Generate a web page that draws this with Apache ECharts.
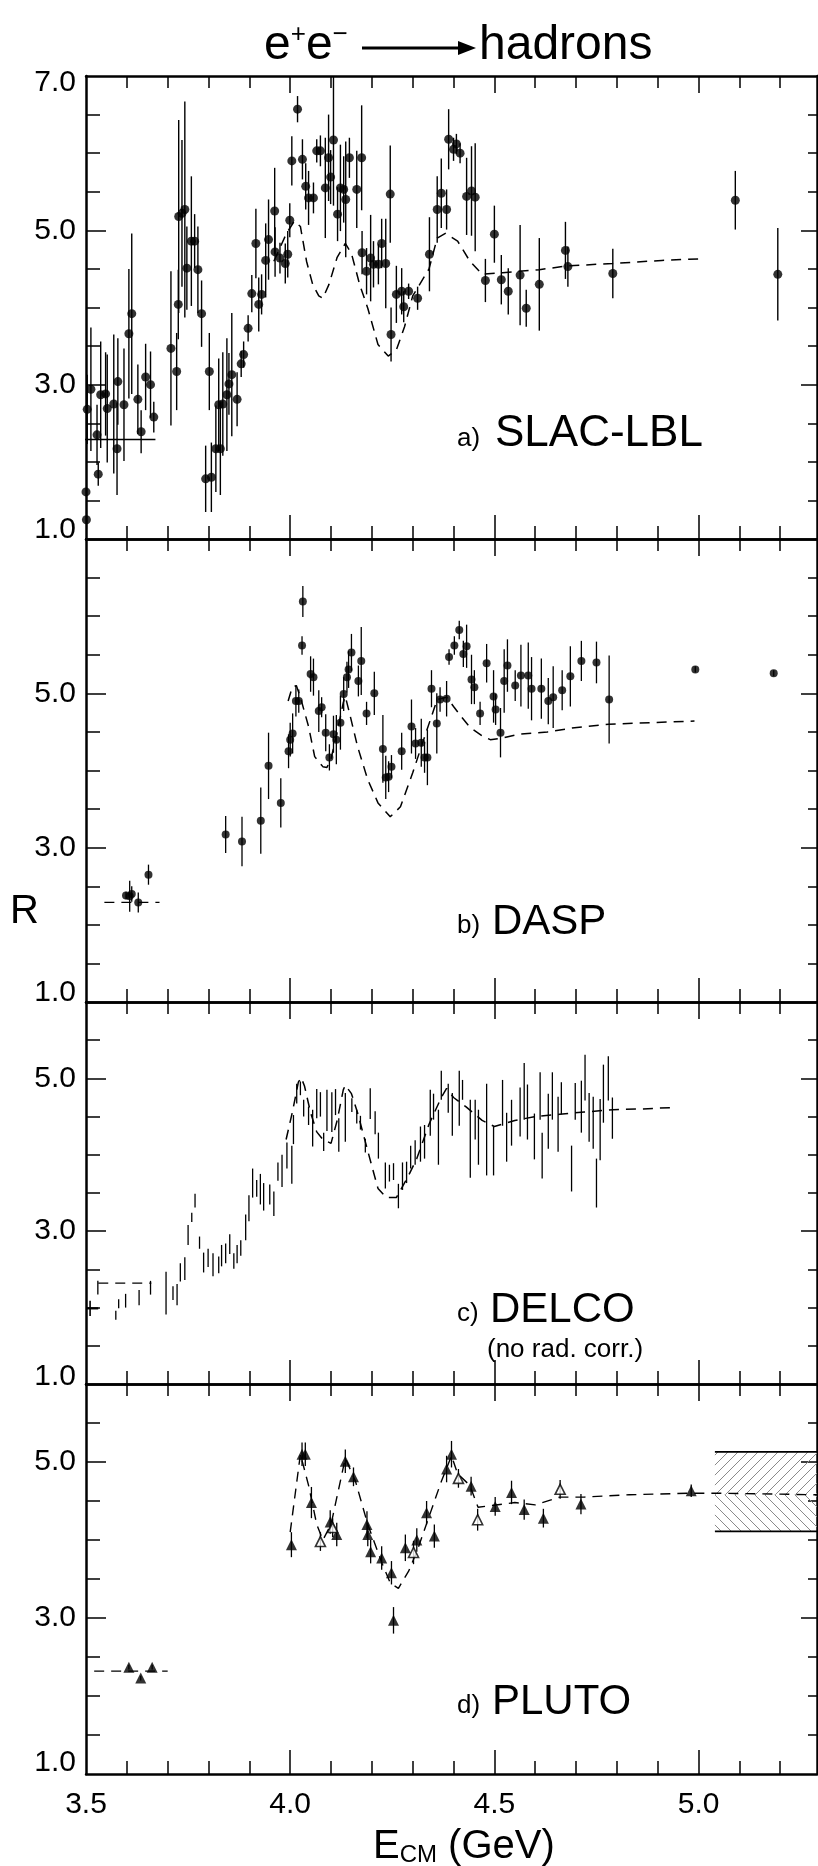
<!DOCTYPE html>
<html><head><meta charset="utf-8">
<script src="https://cdn.jsdelivr.net/npm/echarts@6/dist/echarts.min.js"></script>
<style>html,body{margin:0;padding:0;background:#fff}#c{width:818px;height:1866px}</style>
</head><body><div id="c"></div>
<script>
// ---------------- data ----------------
// a) SLAC-LBL
const slacE = [3.500,3.501,3.503,3.512,3.527,3.530,3.536,3.548,3.552,3.568,3.576,3.578,3.593,3.605,3.612,3.627,3.635,3.646,3.658,3.666,
  3.708,3.722,3.726,3.727,3.735,3.742,3.747,3.758,3.766,3.774,3.783,3.793,3.802,3.807,3.818,3.825,3.829,3.835,3.845,3.850,
  3.857,3.870,3.880,3.886,3.897,3.906,3.916,3.923,3.930,3.940,3.947,3.962,3.963,3.975,3.988,3.994,3.999,4.004,4.018,4.030,
  4.038,4.045,4.057,4.065,4.074,4.086,4.094,4.099,4.106,4.116,4.123,4.131,4.136,4.145,4.163,4.175,4.176,4.187,4.197,4.204,
  4.216,4.224,4.234,4.245,4.247,4.260,4.273,4.278,4.290,4.312,4.341,4.360,4.370,4.383,4.388,4.400,4.407,4.416,4.432,4.444,
  4.453,4.478,4.500,4.517,4.534,4.563,4.578,4.610,4.674,4.680,4.790,5.090,5.194];
const slacR = [1.61,1.25,2.68,2.94,2.35,1.84,2.87,2.88,2.69,2.75,2.17,3.04,2.74,3.66,3.92,2.81,2.39,3.10,3.00,2.58,
  3.47,3.17,4.04,5.18,5.22,5.27,4.51,4.86,4.86,4.49,3.92,1.78,3.17,1.80,2.17,2.74,2.17,2.75,2.87,3.01,
  3.13,2.81,3.27,3.39,3.73,4.18,4.83,4.04,4.17,4.61,4.88,5.25,4.72,4.64,4.57,4.69,5.13,5.90,6.57,5.92,
  5.57,5.42,5.42,6.03,6.03,5.55,5.94,5.69,6.17,5.21,5.55,5.53,5.40,5.94,5.53,5.94,4.71,4.47,4.64,4.56,
  4.56,4.83,4.57,5.47,3.65,4.17,4.21,4.01,4.21,4.12,4.69,5.27,5.48,5.27,6.18,6.05,6.12,6.00,5.44,5.51,
  5.43,4.35,4.95,4.36,4.21,4.42,3.99,4.30,4.74,4.53,4.44,5.39,4.43];
const slacErr = [0.15,0.12,0.45,0.80,0.39,0.15,0.69,0.54,0.70,0.90,0.60,0.56,0.73,0.84,1.04,0.45,0.28,0.43,0.43,0.20,
  1.00,0.50,0.45,1.25,0.95,1.40,0.54,0.84,0.35,0.56,0.43,0.43,0.50,0.45,0.56,0.60,0.60,0.67,0.73,0.40,
  0.80,0.35,0.17,0.17,0.17,0.24,0.45,0.35,0.26,0.48,0.52,0.56,0.32,0.20,0.26,0.30,0.22,0.32,0.17,0.26,
  0.30,0.35,0.20,0.15,0.20,0.65,0.56,0.35,0.85,0.35,0.56,0.43,0.75,0.26,0.50,0.68,0.28,0.30,0.56,0.30,
  0.26,0.32,0.58,0.63,0.35,0.37,0.30,0.20,0.10,0.15,0.48,0.43,0.45,0.26,0.39,0.15,0.13,0.13,0.50,0.58,
  0.70,0.28,0.37,0.32,0.30,0.65,0.24,0.60,0.37,0.26,0.32,0.38,0.60];
const slacCurveE = [3.96,3.99,4.01,4.025,4.04,4.055,4.07,4.08,4.095,4.115,4.135,4.15,4.17,4.19,4.215,4.24,4.26,4.28,4.30,4.34,4.36,4.38,4.41,4.44,4.47,4.52,4.56,4.61,4.68,4.79,4.91,5.0];
const slacCurveR = [4.60,4.95,5.12,5.05,4.60,4.30,4.15,4.12,4.30,4.65,4.83,4.70,4.30,3.99,3.52,3.37,3.45,3.75,4.15,4.50,4.90,4.96,4.86,4.60,4.43,4.45,4.47,4.49,4.54,4.57,4.61,4.63];
const slacLowE = [3.495,3.67];
const slacLowR = [2.29,2.29];

// b) DASP
const daspE = [3.598,3.607,3.612,3.628,3.653,3.842,3.882,3.928,3.947,3.977,3.996,4.000,4.006,4.014,4.021,4.029,4.031,4.050,4.057,4.070,
  4.077,4.087,4.096,4.106,4.113,4.123,4.131,4.139,4.143,4.150,4.167,4.174,4.187,4.206,4.227,4.234,4.241,4.248,4.273,4.297,
  4.307,4.321,4.329,4.336,4.346,4.359,4.367,4.383,4.389,4.402,4.414,4.424,4.432,4.444,4.451,4.465,4.481,4.498,4.503,4.515,
  4.524,4.532,4.551,4.565,4.583,4.591,4.615,4.632,4.644,4.666,4.686,4.713,4.750,4.781,4.992,5.184];
const daspR = [2.38,2.37,2.40,2.29,2.65,3.17,3.08,3.35,4.06,3.58,4.25,4.40,4.48,4.90,4.90,5.62,6.19,5.25,5.21,4.77,
  4.82,4.49,4.17,4.47,4.40,4.62,4.99,5.21,5.31,5.53,5.16,5.42,4.74,5.00,4.28,3.91,3.92,4.05,4.25,4.57,
  4.35,4.36,4.17,4.17,5.06,4.61,4.92,4.93,5.47,5.62,5.82,5.51,5.61,5.18,5.08,4.74,5.39,4.96,4.79,4.49,
  5.16,5.36,5.10,5.23,5.23,5.06,5.06,4.90,4.95,5.04,5.22,5.42,5.40,4.92,5.31,5.26];
const daspErr = [0.05,0.20,0.10,0.13,0.13,0.24,0.32,0.43,0.43,0.32,0.22,0.22,0.26,0.20,0.15,0.12,0.20,0.23,0.24,0.27,
  0.13,0.24,0.17,0.24,0.32,0.35,0.22,0.20,0.24,0.24,0.20,0.44,0.15,0.28,0.44,0.28,0.20,0.15,0.24,0.35,
  0.20,0.31,0.20,0.36,0.24,0.39,0.16,0.23,0.10,0.12,0.12,0.17,0.28,0.32,0.22,0.15,0.25,0.34,0.20,0.32,
  0.41,0.34,0.20,0.40,0.43,0.41,0.39,0.30,0.40,0.26,0.39,0.26,0.27,0.57,0.04,0.04];
const daspCurveE = [3.995,4.005,4.015,4.025,4.045,4.06,4.08,4.09,4.10,4.115,4.13,4.135,4.145,4.165,4.19,4.215,4.245,4.27,4.30,4.33,4.36,4.383,4.40,4.42,4.44,4.47,4.49,4.52,4.56,4.63,4.69,4.78,4.88,4.99];
const daspCurveR = [4.90,5.08,5.10,4.95,4.57,4.18,4.05,4.04,4.15,4.50,4.88,4.96,4.75,4.31,3.88,3.58,3.40,3.53,3.97,4.45,4.92,4.95,4.83,4.69,4.56,4.45,4.40,4.42,4.47,4.50,4.55,4.60,4.62,4.64];
const daspLowE = [3.545,3.68];
const daspLowR = [2.29,2.29];

// c) DELCO (no rad. corr.)
const delcoE = [3.529,3.573,3.580,3.597,3.630,3.658,3.696,3.713,3.723,3.731,3.742,3.750,3.759,3.767,3.778,3.788,3.799,3.811,3.825,3.832,
  3.842,3.852,3.862,3.870,3.879,3.891,3.899,3.908,3.918,3.927,3.935,3.950,3.960,3.970,3.980,3.992,4.004,4.008,4.016,4.025,
  4.033,4.045,4.055,4.065,4.074,4.082,4.090,4.102,4.111,4.119,4.135,4.151,4.163,4.172,4.184,4.196,4.208,4.216,4.233,4.243,
  4.253,4.265,4.275,4.285,4.295,4.306,4.319,4.329,4.343,4.351,4.363,4.370,4.387,4.397,4.414,4.422,4.441,4.453,4.461,4.481,
  4.498,4.520,4.530,4.542,4.563,4.573,4.581,4.598,4.612,4.617,4.632,4.642,4.656,4.664,4.689,4.698,4.713,4.722,4.732,4.742,
  4.750,4.759,4.767,4.779,4.789];
const delcoR = [2.26,1.90,2.05,2.09,2.13,2.26,2.19,2.19,2.17,2.46,2.51,2.95,3.18,3.40,2.85,2.59,2.65,2.56,2.56,2.68,
  2.71,2.83,2.61,2.70,2.78,3.05,3.30,3.63,3.56,3.55,3.45,3.48,3.36,3.78,3.79,3.99,3.87,4.33,4.80,4.87,
  4.61,4.51,4.35,4.67,4.66,4.17,4.58,4.56,4.69,4.26,4.49,4.65,4.50,4.42,4.12,4.67,4.42,4.12,3.73,3.76,
  3.78,3.46,3.72,3.77,3.97,4.03,4.14,4.17,4.55,4.63,4.23,4.91,4.74,4.53,4.74,4.85,4.21,4.46,4.23,4.33,
  4.05,4.68,4.23,4.42,4.56,4.83,4.56,4.24,4.77,3.99,4.44,4.77,4.40,4.74,3.82,4.70,4.63,5.01,4.49,4.42,
  3.63,4.33,4.80,5.00,4.48];
const delcoErr = [0.09,0.06,0.06,0.09,0.10,0.09,0.28,0.09,0.14,0.12,0.15,0.13,0.06,0.09,0.08,0.13,0.12,0.15,0.11,0.14,
  0.13,0.13,0.10,0.12,0.10,0.17,0.17,0.19,0.11,0.20,0.18,0.13,0.16,0.12,0.21,0.17,0.25,0.19,0.13,0.09,
  0.11,0.12,0.24,0.19,0.16,0.12,0.27,0.26,0.17,0.22,0.32,0.09,0.09,0.09,0.09,0.20,0.15,0.17,0.17,0.11,
  0.11,0.16,0.18,0.14,0.15,0.16,0.23,0.22,0.30,0.17,0.36,0.19,0.19,0.28,0.36,0.13,0.51,0.26,0.36,0.60,
  0.32,0.30,0.32,0.30,0.32,0.37,0.36,0.30,0.31,0.30,0.36,0.31,0.36,0.21,0.30,0.24,0.34,0.30,0.32,0.34,
  0.32,0.40,0.38,0.29,0.27];
const delcoFirstE = [3.51];
const delcoFirstR = [1.99];
const delcoFirstErrR = [0.10];
const delcoFirstErrE = [0.02];
const delcoCurveE = [3.99,4.005,4.02,4.027,4.035,4.05,4.065,4.08,4.10,4.115,4.13,4.135,4.15,4.165,4.18,4.20,4.215,4.235,4.26,4.29,4.31,4.34,4.37,4.383,4.40,4.43,4.47,4.50,4.55,4.60,4.66,4.72,4.79,4.86,4.94];
const delcoCurveR = [4.20,4.55,4.95,5.01,4.90,4.55,4.30,4.20,4.15,4.45,4.85,4.91,4.80,4.55,4.25,3.85,3.56,3.44,3.44,3.73,3.95,4.40,4.75,4.87,4.75,4.63,4.45,4.37,4.45,4.50,4.53,4.56,4.59,4.60,4.62];
const delcoLowE = [3.53,3.66];
const delcoLowR = [2.32,2.32];

// d) PLUTO
const plutoE = [3.605,3.634,3.662,4.003,4.029,4.037,4.052,4.098,4.114,4.135,4.155,4.188,4.190,4.197,4.224,4.248,4.253,4.282,4.310,4.334,
  4.353,4.383,4.395,4.443,4.502,4.542,4.573,4.620,4.712,4.982];
const plutoR = [2.37,2.23,2.37,3.94,5.10,5.10,4.48,4.23,4.07,5.01,4.81,4.20,4.07,3.85,3.77,3.58,2.97,3.90,4.00,4.35,
  4.05,4.91,5.10,4.69,4.43,4.61,4.39,4.28,4.46,4.63];
const plutoErr = [0.03,0.03,0.03,0.16,0.15,0.15,0.20,0.15,0.15,0.15,0.12,0.17,0.15,0.15,0.15,0.15,0.17,0.17,0.15,0.15,
  0.15,0.17,0.17,0.12,0.12,0.15,0.13,0.12,0.13,0.08];
const plutoOpenE = [4.074,4.104,4.302,4.412,4.459,4.661];
const plutoOpenR = [3.98,4.16,3.84,4.79,4.26,4.65];
const plutoOpenErr = [0.12,0.12,0.15,0.12,0.14,0.12];
const plutoCurveE = [4.00,4.025,4.045,4.065,4.08,4.10,4.135,4.16,4.19,4.225,4.245,4.265,4.29,4.31,4.34,4.37,4.395,4.41,4.44,4.46,4.49,4.55,4.60,4.66,4.72,4.83,4.98,5.05,5.29];
const plutoCurveR = [4.10,5.10,4.70,4.20,4.00,4.20,5.05,4.75,4.20,3.70,3.45,3.38,3.60,3.85,4.30,4.75,5.08,4.85,4.70,4.42,4.44,4.48,4.45,4.55,4.55,4.58,4.60,4.60,4.58];
const plutoLowE = [3.52,3.70];
const plutoLowR = [2.32,2.32];
const bandE = [5.04,5.29];
const bandR = [4.11,4.58,5.13];

// axis ticks / labels
const xTickMinor = [3.6,3.7,3.8,3.9,4.0,4.1,4.2,4.3,4.4,4.5,4.6,4.7,4.8,4.9,5.0,5.1,5.2];
const xTickMajor = [4.0,4.5,5.0];
const xTickLabels = [3.5,4.0,4.5,5.0];
const yTickMinor7 = [1.5,2.0,2.5,3.0,3.5,4.0,4.5,5.0,5.5,6.0,6.5];
const yTickMinor6 = [1.5,2.0,2.5,3.0,3.5,4.0,4.5,5.0,5.5];
const yTickMajor = [3.0,5.0];

// ---------------- layout / styling ----------------
const FONT = "'Liberation Sans', Arial, sans-serif";
const X_MIN = 3.5, X_MAX = 5.29;
const grids = [
  {left: 86, right: 1, top: 76, height: 463},
  {left: 86, right: 1, top: 539, height: 463},
  {left: 86, right: 1, top: 1002, height: 382},
  {left: 86, right: 1, top: 1384, height: 390}
];
const yMaxes = [7, 7, 6, 6];
const yLabelSets = [[1, 3, 5, 7], [1, 3, 5], [1, 3, 5], [1, 3, 5]];
const oneShift = [18, 18, 14, 22];

const xAxes = [], yAxes = [];
grids.forEach((g, i) => {
  const base = {gridIndex: i, type: 'value', min: X_MIN, max: X_MAX, splitLine: {show: false}};
  const tickStyle = {color: '#000', width: 1.5};
  const lineStyle = {color: '#000', width: 2.5};
  xAxes.push(Object.assign({}, base, {position: 'bottom',
    axisLine: {show: true, onZero: false, lineStyle},
    axisTick: {show: true, inside: true, length: 13, customValues: xTickMinor, lineStyle: tickStyle},
    axisLabel: i === 3 ? {show: true, customValues: xTickLabels, formatter: v => v.toFixed(1), margin: 16,
      fontSize: 30, fontFamily: FONT, color: '#000', showMinLabel: true, showMaxLabel: true} : {show: false}}));
  xAxes.push(Object.assign({}, base, {position: 'bottom',
    axisLine: {show: false, onZero: false},
    axisTick: {show: true, inside: true, length: 24, customValues: xTickMajor, lineStyle: tickStyle},
    axisLabel: {show: false}}));
  xAxes.push(Object.assign({}, base, {position: 'top',
    axisLine: {show: true, onZero: false, lineStyle},
    axisTick: {show: true, inside: true, length: 12, customValues: xTickMinor, lineStyle: tickStyle},
    axisLabel: {show: false}}));
  xAxes.push(Object.assign({}, base, {position: 'top',
    axisLine: {show: false, onZero: false},
    axisTick: {show: true, inside: true, length: 17, customValues: xTickMajor, lineStyle: tickStyle},
    axisLabel: {show: false}}));

  const ybase = {gridIndex: i, type: 'value', min: 1, max: yMaxes[i], splitLine: {show: false}};
  const minor = yMaxes[i] === 7 ? yTickMinor7 : yTickMinor6;
  const lblStyle = {fontSize: 30, fontFamily: FONT, color: '#000'};
  yAxes.push(Object.assign({}, ybase, {position: 'left',
    axisLine: {show: true, onZero: false, lineStyle},
    axisTick: {show: true, inside: true, length: 14, customValues: minor, lineStyle: tickStyle},
    axisLabel: {show: false}}));
  yAxes.push(Object.assign({}, ybase, {position: 'left',
    axisLine: {show: false, onZero: false},
    axisTick: {show: true, inside: true, length: 20, customValues: yTickMajor, lineStyle: tickStyle},
    axisLabel: {show: true, customValues: yLabelSets[i], margin: 10, showMinLabel: true, showMaxLabel: true,
      fontSize: 30, fontFamily: FONT, color: '#000',
      formatter: v => v === 1 ? '{lo|1.0}' : (v === 7 ? '{hi|7.0}' : '{n|' + v.toFixed(1) + '}'),
      rich: {
        n: lblStyle,
        lo: Object.assign({padding: [0, 0, oneShift[i], 0]}, lblStyle),
        hi: Object.assign({padding: [14, 0, 0, 0]}, lblStyle)
      }}}));
  yAxes.push(Object.assign({}, ybase, {position: 'right',
    axisLine: {show: true, onZero: false, lineStyle},
    axisTick: {show: true, inside: true, length: 9, customValues: minor, lineStyle: tickStyle},
    axisLabel: {show: false}}));
  yAxes.push(Object.assign({}, ybase, {position: 'right',
    axisLine: {show: false, onZero: false},
    axisTick: {show: true, inside: true, length: 16, customValues: yTickMajor, lineStyle: tickStyle},
    axisLabel: {show: false}}));
});

function zip3(a, b, c) { return a.map((v, i) => [v, b[i], c[i]]); }
function zip2(a, b) { return a.map((v, i) => [v, b[i]]); }

function errRender(width) {
  return function (params, api) {
    const x = api.value(0), y = api.value(1), e = api.value(2), ex = api.value(3) || 0;
    const a = api.coord([x, y + e]), b = api.coord([x, y - e]);
    const children = [{type: 'line', shape: {x1: a[0], y1: a[1], x2: b[0], y2: b[1]},
      style: {stroke: '#000', lineWidth: width}}];
    if (ex > 0) {
      const l = api.coord([x - ex, y]), r = api.coord([x + ex, y]);
      children.push({type: 'line', shape: {x1: l[0], y1: l[1], x2: r[0], y2: r[1]},
        style: {stroke: '#000', lineWidth: width + 0.6}});
    }
    return {type: 'group', children};
  };
}
function errSeries(g, data, width) {
  return {type: 'custom', xAxisIndex: 4 * g, yAxisIndex: 4 * g, clip: true, silent: true,
    renderItem: errRender(width), encode: {x: 0, y: 1}, data, z: 3};
}
function dotSeries(g, data, symbol, size, open) {
  return {type: 'scatter', xAxisIndex: 4 * g, yAxisIndex: 4 * g, data, symbol, symbolSize: size, silent: true,
    itemStyle: open ? {color: '#fff', borderColor: '#000', borderWidth: 1.6} : {color: '#000'}, z: 5};
}
function curveSeries(g, data, dash, width, extra) {
  return Object.assign({type: 'line', xAxisIndex: 4 * g, yAxisIndex: 4 * g, data, showSymbol: false, symbol: 'none',
    silent: true, smooth: false, lineStyle: {color: '#000', width: width || 1.5, type: dash ? [10, 7] : 'solid'}, z: 4}, extra || {});
}

function hatch(dir) {
  const c = document.createElement('canvas'); c.width = 10; c.height = 10;
  const ctx = c.getContext('2d');
  ctx.strokeStyle = '#8a8a8a'; ctx.lineWidth = 1;
  ctx.beginPath();
  if (dir > 0) { ctx.moveTo(0, 10); ctx.lineTo(10, 0); ctx.moveTo(-1, 1); ctx.lineTo(1, -1); ctx.moveTo(9, 11); ctx.lineTo(11, 9); }
  else { ctx.moveTo(0, 0); ctx.lineTo(10, 10); ctx.moveTo(-1, 9); ctx.lineTo(1, 11); ctx.moveTo(9, -1); ctx.lineTo(11, 1); }
  ctx.stroke();
  return c;
}

const series = [
  // a) SLAC-LBL
  errSeries(0, zip3(slacE, slacR, slacErr), 1.4),
  dotSeries(0, zip2(slacE, slacR), 'circle', 9),
  curveSeries(0, zip2(slacCurveE, slacCurveR), true),
  curveSeries(0, zip2(slacLowE, slacLowR), false, 1.5),
  // b) DASP
  errSeries(1, zip3(daspE, daspR, daspErr), 1.3),
  dotSeries(1, zip2(daspE, daspR), 'circle', 8),
  curveSeries(1, zip2(daspCurveE, daspCurveR), true),
  curveSeries(1, zip2(daspLowE, daspLowR), true, 1.3),
  // c) DELCO
  errSeries(2, zip3(delcoE, delcoR, delcoErr), 1.3),
  errSeries(2, delcoFirstE.map((e, i) => [e, delcoFirstR[i], delcoFirstErrR[i], delcoFirstErrE[i]]), 1.6),
  curveSeries(2, zip2(delcoCurveE, delcoCurveR), true),
  curveSeries(2, zip2(delcoLowE, delcoLowR), true, 1.3),
  // d) PLUTO
  errSeries(3, zip3(plutoE, plutoR, plutoErr), 1.3),
  errSeries(3, zip3(plutoOpenE, plutoOpenR, plutoOpenErr), 1.3),
  dotSeries(3, zip2(plutoE, plutoR), 'triangle', 11),
  dotSeries(3, zip2(plutoOpenE, plutoOpenR), 'triangle', 10, true),
  curveSeries(3, zip2(plutoCurveE, plutoCurveR), true, 1.4, {
    markArea: {silent: true, data: [
      [{coord: [bandE[0], bandR[2]], itemStyle: {color: {image: hatch(1), repeat: 'repeat'}}}, {coord: [bandE[1], bandR[1]]}],
      [{coord: [bandE[0], bandR[1]], itemStyle: {color: {image: hatch(-1), repeat: 'repeat'}}}, {coord: [bandE[1], bandR[0]]}]
    ]}
  }),
  curveSeries(3, [[bandE[0], bandR[2]], [bandE[1], bandR[2]]], false, 1.6),
  curveSeries(3, [[bandE[0], bandR[0]], [bandE[1], bandR[0]]], false, 1.6),
  curveSeries(3, zip2(plutoLowE, plutoLowR), true, 1.3)
];

function txt(x, y, text, size, extra) {
  return {type: 'text', x, y, silent: true, z: 10,
    style: Object.assign({text, fontSize: size, fontFamily: FONT, fill: '#000',
      align: 'left', verticalAlign: 'middle', textAlign: 'left', textVerticalAlign: 'middle'}, extra || {})};
}

const graphic = [
  // title
  txt(264, 46, '{e|e}{s|+}{e|e}{s|−}', 48, {rich: {
    e: {fontSize: 48, fontFamily: FONT, fill: '#000', verticalAlign: 'bottom'},
    s: {fontSize: 26, fontFamily: FONT, fill: '#000', verticalAlign: 'top'}
  }}),
  {type: 'line', silent: true, shape: {x1: 362, y1: 48, x2: 462, y2: 48}, style: {stroke: '#000', lineWidth: 3}},
  {type: 'polygon', silent: true, shape: {points: [[476, 48], [458, 41], [458, 55]]}, style: {fill: '#000'}},
  txt(479, 46, 'hadrons', 48),
  // axis names
  txt(10, 912, 'R', 40),
  txt(373, 1847, '{a|E}{b|CM}{a| (GeV)}', 40, {rich: {
    a: {fontSize: 40, fontFamily: FONT, fill: '#000', verticalAlign: 'bottom'},
    b: {fontSize: 24, fontFamily: FONT, fill: '#000', verticalAlign: 'bottom', padding: [0, 0, 0, 0]}
  }}),
  // panel labels
  txt(457, 439, 'a)', 26), txt(495, 434, 'SLAC-LBL', 44),
  txt(457, 926, 'b)', 26), txt(492, 922, 'DASP', 42),
  txt(457, 1314, 'c)', 26), txt(490, 1310, 'DELCO', 42),
  txt(487, 1350, '(no rad. corr.)', 26),
  txt(457, 1706, 'd)', 26), txt(492, 1702, 'PLUTO', 42)
];

const chart = echarts.init(document.getElementById('c'), null, {renderer: 'canvas', width: 818, height: 1866});
chart.setOption({
  animation: false,
  backgroundColor: '#fff',
  textStyle: {fontFamily: FONT, color: '#000'},
  grid: grids.map(g => Object.assign({outerBoundsMode: 'none', containLabel: false}, g)),
  xAxis: xAxes,
  yAxis: yAxes,
  series,
  graphic
});
</script>
</body></html>
